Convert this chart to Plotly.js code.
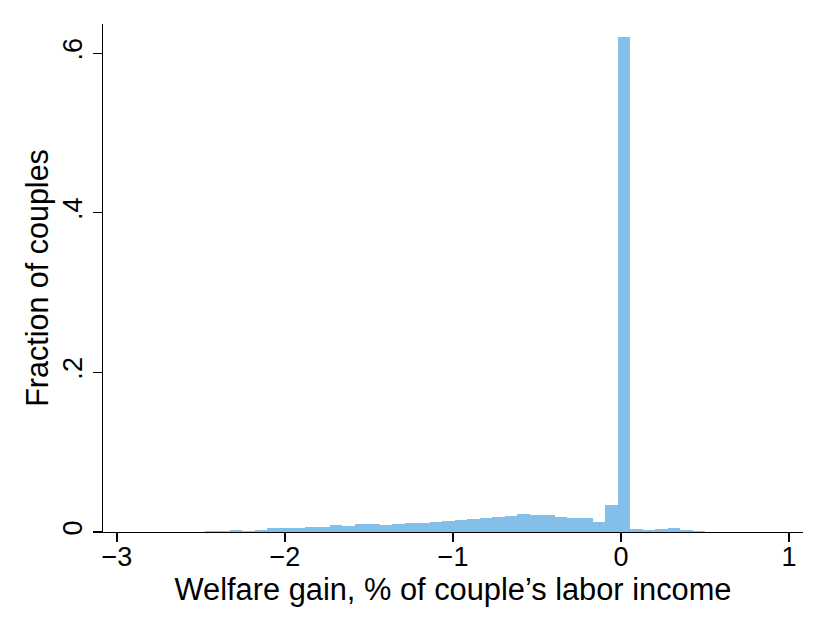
<!DOCTYPE html>
<html>
<head>
<meta charset="utf-8">
<script src="https://cdn.plot.ly/plotly-3.0.1.min.js"></script>
<style>
  html, body { margin: 0; padding: 0; background: #fff; }
  #hist { width: 830px; height: 636px; }
</style>
</head>
<body>
<div id="hist"></div>
<script>
// bin centers (welfare gain, % of labor income)
let binCenters = [
  -2.5878, -2.5134, -2.4390, -2.3646, -2.2902, -2.2158, -2.1414, -2.0670,
  -1.9926, -1.9182, -1.8438, -1.7694, -1.6950, -1.6206, -1.5462, -1.4718,
  -1.3974, -1.3230, -1.2486, -1.1742, -1.0998, -1.0254, -0.9510, -0.8766,
  -0.8022, -0.7278, -0.6534, -0.5790, -0.5046, -0.4302, -0.3558, -0.2814,
  -0.2070, -0.1326, -0.0582, 0.0162, 0.0906, 0.1650, 0.2394, 0.3138,
  0.3882, 0.4626
];
// fraction of couples in each bin
let fractions = [
  0.0005, 0.0005, 0.0010, 0.0010, 0.0020, 0.0018, 0.0030, 0.0045,
  0.0046, 0.0054, 0.0067, 0.0067, 0.0083, 0.0072, 0.0095, 0.0096,
  0.0083, 0.0104, 0.0112, 0.0113, 0.0130, 0.0140, 0.0150, 0.0162,
  0.0175, 0.0184, 0.0196, 0.0221, 0.0210, 0.0217, 0.0188, 0.0174,
  0.0170, 0.0125, 0.0334, 0.6200, 0.0042, 0.0022, 0.0042, 0.0052,
  0.0030, 0.0009
];
let xTicks = [-3, -2, -1, 0, 1];
let yTicks = [0, 0.2, 0.4, 0.6];
let yTickText = ["0", ".2", ".4", ".6"];

let data = [{
  type: "bar",
  x: binCenters,
  y: fractions,
  width: 0.0744,
  marker: { color: "#84bfea", line: { width: 0 } },
  hoverinfo: "x+y"
}];

let layout = {
  width: 830,
  height: 636,
  margin: { l: 103, r: 27, t: 24, b: 104 },
  paper_bgcolor: "#fff",
  plot_bgcolor: "#fff",
  font: { family: "Liberation Sans, Arial, sans-serif", color: "#000", size: 27 },
  showlegend: false,
  bargap: 0,
  xaxis: {
    range: [-3.083, 1.083],
    tickvals: xTicks,
    ticks: "outside", ticklen: 9, tickwidth: 1.3, tickcolor: "#000",
    ticklabelstandoff: -9,
    showline: true, linecolor: "#000", linewidth: 1.3,
    showgrid: false, zeroline: false,
    tickfont: { size: 27 },
    title: { text: "Welfare gain, % of couple’s labor income", font: { size: 30.8 }, standoff: 4 }
  },
  yaxis: {
    range: [0, 0.6366],
    tickvals: yTicks,
    ticktext: yTickText,
    tickangle: -90,
    ticks: "outside", ticklen: 9, tickwidth: 1.3, tickcolor: "#000",
    showline: true, linecolor: "#000", linewidth: 1.3,
    showgrid: false, zeroline: false,
    tickfont: { size: 27 },
    title: { text: "Fraction of couples", font: { size: 30.5 }, standoff: 0 }
  }
};

Plotly.newPlot("hist", data, layout, { displayModeBar: false, staticPlot: true });
</script>
</body>
</html>
